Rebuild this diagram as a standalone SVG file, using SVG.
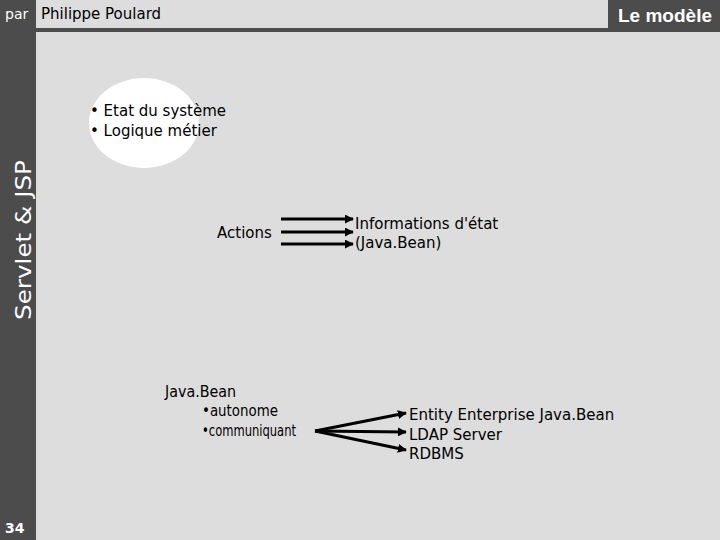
<svg xmlns="http://www.w3.org/2000/svg" width="720" height="540" viewBox="0 0 720 540">
<defs>
<style>
.t{font-family:"DejaVu Sans","Liberation Sans",sans-serif;font-size:15px;fill:#000}
.w{font-family:"DejaVu Sans","Liberation Sans",sans-serif;fill:#fff}
.c{stroke:#000;stroke-width:3;fill:none}
</style>
<marker id="ah" viewBox="0 0 10 10" refX="9" refY="5" markerWidth="3" markerHeight="3" orient="auto" markerUnits="strokeWidth">
<path d="M0,0 L10,5 L0,10 z" fill="#000"/>
</marker>
</defs>
<rect width="720" height="540" fill="#4c4c4c"/>
<rect x="36" y="32" width="684" height="508" fill="#dddddd"/>
<rect x="36" y="0" width="572" height="28" fill="#dddddd"/>
<text class="w" x="5" y="19" font-size="14">par</text>
<text class="t" x="41" y="19">Philippe Poulard</text>
<text x="712" y="22" font-family="'Liberation Sans',Arial,sans-serif" font-size="19" font-weight="bold" fill="#fff" text-anchor="end">Le modèle</text>
<text class="w" x="0" y="0" font-size="21" textLength="160" lengthAdjust="spacingAndGlyphs" transform="translate(31,320) rotate(-90)">Servlet &amp; JSP</text>
<text class="w" x="5" y="533" font-size="14" font-weight="bold">34</text>
<g id="modele">
<ellipse cx="144" cy="123" rx="55" ry="45" fill="#fff"/>
<text class="t" x="90" y="116">• Etat du système</text>
<text class="t" x="90" y="136">• Logique métier</text>
</g>
<g id="actions"><text class="t" x="217" y="238">Actions</text></g>
<g id="infos">
<text class="t" x="355" y="229">Informations d'état</text>
<text class="t" x="355" y="248">(Java.Bean)</text>
</g>
<g id="javabean">
<text class="t" x="165" y="397" textLength="71" lengthAdjust="spacingAndGlyphs">Java.Bean</text>
<text class="t" x="202" y="416" font-size="14" textLength="76" lengthAdjust="spacingAndGlyphs">•autonome</text>
<text class="t" x="202" y="436" font-size="14" textLength="94" lengthAdjust="spacingAndGlyphs">•communiquant</text>
</g>
<g id="backends">
<text class="t" x="409" y="420">Entity Enterprise Java.Bean</text>
<text class="t" x="409" y="440">LDAP Server</text>
<text class="t" x="409" y="459">RDBMS</text>
</g>
<g id="connectors">
<line class="c" x1="281" y1="219" x2="353" y2="219" marker-end="url(#ah)"/>
<line class="c" x1="281" y1="232" x2="353" y2="232" marker-end="url(#ah)"/>
<line class="c" x1="281" y1="244" x2="353" y2="244" marker-end="url(#ah)"/>
<line class="c" x1="315" y1="431" x2="406" y2="413" marker-end="url(#ah)"/>
<line class="c" x1="315" y1="431" x2="406" y2="432" marker-end="url(#ah)"/>
<line class="c" x1="315" y1="431" x2="406" y2="450" marker-end="url(#ah)"/>
</g>
</svg>
